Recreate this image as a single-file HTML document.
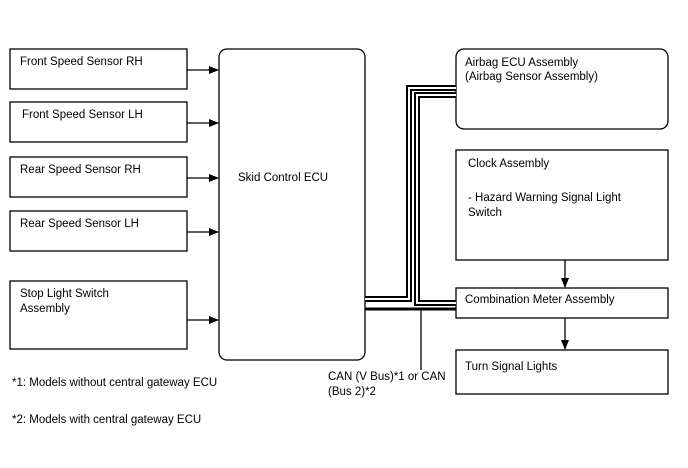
<!DOCTYPE html>
<html><head><style>
body{margin:0;background:#fff;}
svg text{font-family:"Liberation Sans",Arial,sans-serif;font-size:11.5px;fill:#000;}
</style></head><body>
<svg width="688" height="463" xmlns="http://www.w3.org/2000/svg">
<defs><marker id="a" markerWidth="10" markerHeight="8" refX="9" refY="4" orient="auto" markerUnits="userSpaceOnUse"><path d="M0,0 L10,4 L0,8z" fill="#000"/></marker></defs>
<g fill="none" stroke="#000" stroke-width="1.3">
<rect x="10" y="49" width="177" height="40"/>
<rect x="10" y="102" width="177" height="40"/>
<rect x="10" y="157" width="177" height="40"/>
<rect x="10" y="211" width="177" height="40"/>
<rect x="10" y="281" width="177" height="68"/>
<rect x="219" y="49" width="146" height="311" rx="8"/>
<rect x="456" y="49" width="212" height="80" rx="8"/>
<rect x="456" y="150" width="212" height="110"/>
<rect x="456" y="288" width="212" height="30"/>
<rect x="456" y="350" width="212" height="44"/>
<path d="M187,70 H218" marker-end="url(#a)"/>
<path d="M187,123 H218" marker-end="url(#a)"/>
<path d="M187,178 H218" marker-end="url(#a)"/>
<path d="M187,232 H218" marker-end="url(#a)"/>
<path d="M187,320 H218" marker-end="url(#a)"/>
<path d="M565,260 V287" marker-end="url(#a)"/>
<path d="M565,318 V349" marker-end="url(#a)"/>
<path d="M421,310 V370"/>
</g>
<g fill="none" stroke-linejoin="miter">
<path d="M365,299 H409 V88 H456" stroke="#000" stroke-width="6"/>
<path d="M365,299 H409 V88 H456" stroke="#fff" stroke-width="2"/>
<path d="M456,95 H417 V303 H456" stroke="#000" stroke-width="6"/>
<path d="M456,95 H417 V303 H456" stroke="#fff" stroke-width="2"/>
<path d="M365,309 H456" stroke="#000" stroke-width="3"/>
</g>
<text x="20" y="65">Front Speed Sensor RH</text>
<text x="22" y="118">Front Speed Sensor LH</text>
<text x="20" y="173">Rear Speed Sensor RH</text>
<text x="20" y="227">Rear Speed Sensor LH</text>
<text x="20" y="297">Stop Light Switch</text>
<text x="20" y="312">Assembly</text>
<text x="238" y="181">Skid Control ECU</text>
<text x="465" y="66">Airbag ECU Assembly</text>
<text x="465" y="80">(Airbag Sensor Assembly)</text>
<text x="468" y="167">Clock Assembly</text>
<text x="468" y="201">- Hazard Warning Signal Light</text>
<text x="468" y="216">Switch</text>
<text x="465" y="303">Combination Meter Assembly</text>
<text x="465" y="370">Turn Signal Lights</text>
<text x="328" y="380">CAN (V Bus)*1 or CAN</text>
<text x="328" y="395">(Bus 2)*2</text>
<text x="12" y="386">*1: Models without central gateway ECU</text>
<text x="12" y="423">*2: Models with central gateway ECU</text>
</svg>
</body></html>
